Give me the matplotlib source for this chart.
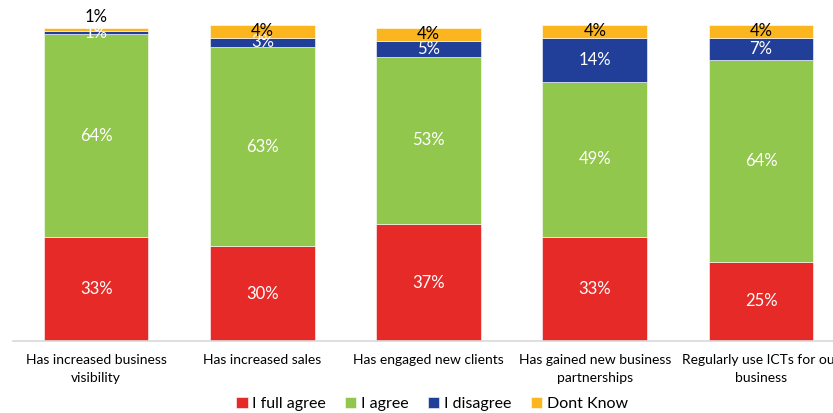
import matplotlib.pyplot as plt
import numpy as np

categories = ['Has increased business\nvisibility', 'Has increased sales',
              'Has engaged new clients', 'Has gained new business\npartnerships',
              'Regularly use ICTs for our\nbusiness']
full_agree = [33, 30, 37, 33, 25]
agree = [64, 63, 53, 49, 64]
disagree = [1, 3, 5, 14, 7]
dont_know = [1, 4, 4, 4, 4]

series = [('I full agree', full_agree, '#E52A27', 'white'),
          ('I agree', agree, '#92C74D', 'white'),
          ('I disagree', disagree, '#213F98', 'white'),
          ('Dont Know', dont_know, '#FBB51F', 'black')]

plt.rcParams['font.family'] = ['Lato', 'DejaVu Sans']

fig = plt.figure(figsize=(8.33, 4.13), dpi=100)
ax = fig.add_axes([13 / 833, 72 / 413, 820 / 833, 316 / 413])

x = np.arange(len(categories))
bottom = np.zeros(len(categories))
for name, vals, color, tcol in series:
    vals = np.array(vals, dtype=float)
    ax.bar(x, vals, 0.63, bottom=bottom, color=color, label=name,
           edgecolor='white', linewidth=0.4)
    for i, v in enumerate(vals):
        y = bottom[i] + v / 2
        if name == 'Dont Know' and v < 2:
            y = bottom[i] + v + 3.5
        ax.text(x[i], y, f'{int(v)}%', ha='center', va='center',
                color=tcol, fontsize=12)
    bottom += vals

ax.set_xlim(-0.5, 4.433)
ax.set_ylim(0, 100)
ax.set_xticks(x)
ax.set_xticklabels(categories, fontsize=10, linespacing=1.6)
ax.tick_params(axis='x', length=0, pad=9)
ax.set_yticks([])
for s in ['top', 'right', 'left']:
    ax.spines[s].set_visible(False)
ax.spines['bottom'].set_color('#D9D9D9')
ax.spines['bottom'].set_linewidth(1.2)

fig.legend(loc='center', bbox_to_anchor=(432 / 833, 9 / 413), ncol=4,
           frameon=False, fontsize=11.5, handlelength=0.7, handleheight=0.7,
           handletextpad=0.3, columnspacing=1.2)

fig.savefig('out.png', dpi=100)
